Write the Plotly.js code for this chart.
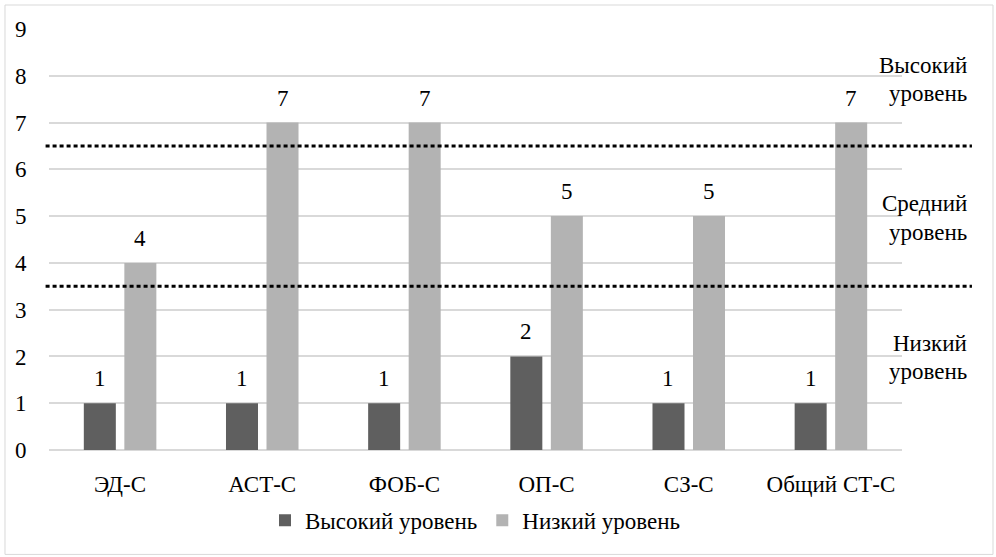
<!DOCTYPE html>
<html><head><meta charset="utf-8">
<script src="https://cdn.plot.ly/plotly-3.0.1.min.js"></script>
</head><body style="margin:0;background:#fff">
<div aria-hidden="true" style="position:absolute;left:2px;top:2px;z-index:-1;font-family:'Liberation Serif';font-size:3px;color:#fff">Оо1</div>
<div id="chart" style="width:996px;height:557px"></div>
<script>
var categories = ['ЭД-С', 'АСТ-С', 'ФОБ-С', 'ОП-С', 'СЗ-С', 'Общий СТ-С'];
var highValues = [1, 1, 1, 2, 1, 1];
var lowValues = [4, 7, 7, 5, 5, 7];
var seriesNames = ['Высокий уровень', 'Низкий уровень'];
var thresholdLevels = [6.5, 3.5];
var zoneLabels = [['Высокий', 'уровень', 8.22, 7.62], ['Средний', 'уровень', 5.28, 4.66], ['Низкий', 'уровень', 2.28, 1.68]];

function F() { return {family: 'Liberation Serif', size: 23}; }

var traces = [
  {type: 'bar', x: categories, y: highValues, name: seriesNames[0], marker: {color: '#5f5f5f'}},
  {type: 'bar', x: categories, y: lowValues, name: seriesNames[1], marker: {color: '#b3b3b3'}}
];
var shapes = [{type: 'rect', xref: 'paper', yref: 'paper', x0: -0.0516, x1: 1.1067, y0: -0.248, y1: 1.057,
  line: {color: '#d9d9d9', width: 1}, layer: 'below'}];
thresholdLevels.forEach(function (v) {
  shapes.push({type: 'line', xref: 'paper', yref: 'y', x0: -0.004, x1: 1.082, y0: v, y1: v,
    line: {color: '#000', width: 3, dash: '4px,3px'}});
});
var annotations = [];
[highValues, lowValues].forEach(function (vals, s) {
  vals.forEach(function (v, i) {
    annotations.push({x: categories[i], y: v, xref: 'x', yref: 'y', text: String(v), showarrow: false,
      xanchor: 'center', yanchor: 'bottom', xshift: s === 0 ? -20.3 : 20.3, yshift: 10, font: F()});
  });
});
zoneLabels.forEach(function (z) {
  annotations.push({xref: 'paper', yref: 'y', x: 1.078, y: z[2], text: z[0], showarrow: false, xanchor: 'right', yanchor: 'middle', font: F()});
  annotations.push({xref: 'paper', yref: 'y', x: 1.078, y: z[3], text: z[1], showarrow: false, xanchor: 'right', yanchor: 'middle', font: F()});
});
var layout = {
  width: 996, height: 557,
  margin: {l: 49, r: 94, t: 29, b: 107},
  paper_bgcolor: '#fff', plot_bgcolor: '#fff',
  font: {family: 'Liberation Serif', size: 23, color: '#000'},
  barmode: 'group', bargap: 0.43, bargroupgap: 0.21,
  xaxis: {showgrid: false, zeroline: false, showline: false, tickfont: F(), ticks: 'outside', ticklen: 13, tickcolor: 'rgba(0,0,0,0)'},
  yaxis: {range: [0, 9], dtick: 1, showgrid: true, gridcolor: '#d9d9d9', gridwidth: 1.5, zeroline: true, zerolinecolor: '#d9d9d9', zerolinewidth: 1.5,
    tickfont: F(), ticks: 'outside', ticklen: 17, tickcolor: 'rgba(0,0,0,0)'},
  legend: {orientation: 'h', x: 0.5, xanchor: 'center', y: -0.167, yanchor: 'middle', font: F(), itemwidth: 30, traceorder: 'normal'},
  showlegend: true,
  shapes: shapes,
  annotations: annotations
};
Plotly.newPlot('chart', traces, layout, {displayModeBar: false});
</script></body></html>
